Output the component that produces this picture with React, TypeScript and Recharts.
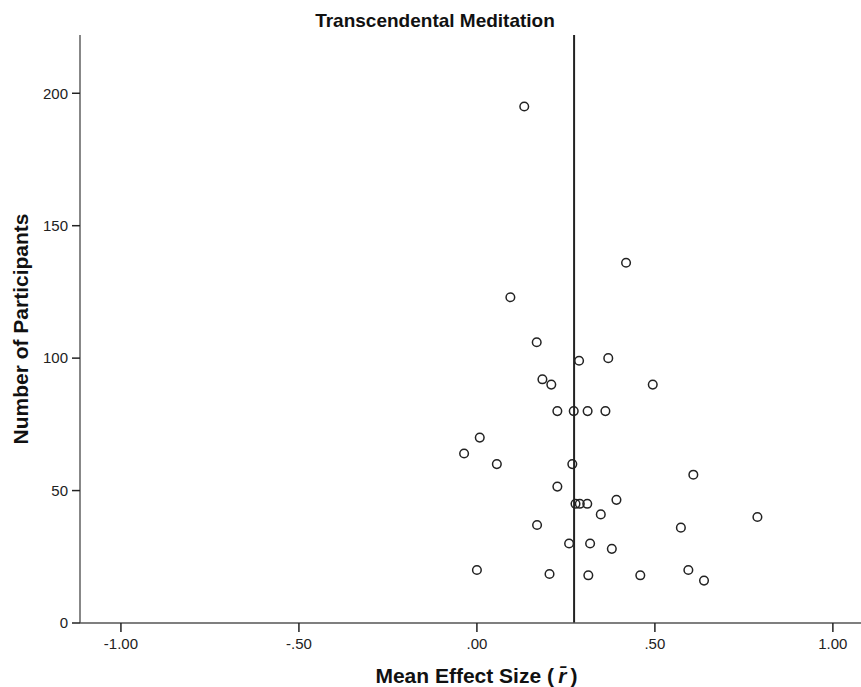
import React from 'react';
import {
  ScatterChart,
  Scatter,
  XAxis,
  YAxis,
  ReferenceLine,
} from 'recharts';

// ---------- Data ----------
const effectSizes = [
  0.133, 0.419, 0.094, 0.168, 0.287, 0.369, 0.184, 0.209, 0.494,
  0.226, 0.272, 0.311, 0.361, 0.008, -0.036, 0.056, 0.268, 0.608,
  0.226, 0.277, 0.289, 0.31, 0.392, 0.348, 0.788, 0.169, 0.573,
  0.259, 0.318, 0.379, 0.0, 0.204, 0.313, 0.459, 0.594, 0.638,
];
const participants = [
  195, 136, 123, 106, 99, 100, 92, 90, 90,
  80, 80, 80, 80, 70, 64, 60, 60, 56,
  51.5, 45, 45, 45, 46.5, 41, 40, 37, 36,
  30, 30, 28, 20, 18.5, 18, 18, 20, 16,
];
const meanEffect = 0.273;
const xTicks = [-1, -0.5, 0, 0.5, 1];
const yTicks = [0, 50, 100, 150, 200];

const data = effectSizes.map((x, i) => ({ x, y: participants[i] }));

const FONT = '"Liberation Sans", Arial, sans-serif';

// SPSS-style labels: drop the leading zero
const fmtX = (v: number) => {
  const s = Math.abs(v).toFixed(2).replace(/^0/, '');
  return v < 0 ? `-${s}` : s;
};

const OpenCircle = (props: any) => (
  <circle cx={props.cx} cy={props.cy} r={4.3} fill="none" stroke="#222" strokeWidth={1.5} />
);

const XTitle = (props: any) => {
  const vb = props.viewBox;
  return (
    <text
      x={vb.x + vb.width / 2 + 6}
      y={vb.y + 60}
      textAnchor="middle"
      fontFamily={FONT}
      fontWeight="bold"
      fontSize={21}
      fill="#111"
    >
      Mean Effect Size (<tspan fontStyle="italic">{'\u2009r\u0304\u2009'}</tspan>)
    </text>
  );
};

const YTitle = (props: any) => {
  const vb = props.viewBox;
  const cx = vb.x + 20;
  const cy = vb.y + vb.height / 2;
  return (
    <text
      x={cx}
      y={cy}
      transform={`rotate(-90 ${cx} ${cy})`}
      textAnchor="middle"
      dominantBaseline="central"
      fontFamily={FONT}
      fontWeight="bold"
      fontSize={21}
      fill="#111"
    >
      Number of Participants
    </text>
  );
};

export default function App() {
  return (
    <div style={{ position: 'absolute', left: 0, top: 0, width: 861, height: 687, background: '#fff' }}>
      <ScatterChart width={861} height={687} margin={{ top: 35, right: 0, bottom: 0, left: 0 }}>
        <XAxis
          type="number"
          dataKey="x"
          domain={[-1.115, 1.079]}
          ticks={xTicks}
          tickFormatter={fmtX}
          height={64}
          tickSize={9}
          tickMargin={6}
          axisLine={{ stroke: '#555', strokeWidth: 1.4 }}
          tickLine={{ stroke: '#222', strokeWidth: 1.5 }}
          tick={{ fill: '#222', fontSize: 15, fontFamily: FONT }}
          allowDataOverflow
          label={{ content: XTitle }}
        />
        <YAxis
          type="number"
          dataKey="y"
          domain={[0, 222]}
          ticks={yTicks}
          width={80}
          tickSize={8}
          tickMargin={4}
          axisLine={{ stroke: '#555', strokeWidth: 1.4 }}
          tickLine={{ stroke: '#222', strokeWidth: 1.5 }}
          tick={{ fill: '#222', fontSize: 15, fontFamily: FONT }}
          allowDataOverflow
          label={{ content: YTitle }}
        />
        <ReferenceLine x={meanEffect} stroke="#222" strokeWidth={2} />
        <Scatter data={data} shape={OpenCircle} isAnimationActive={false} />
      </ScatterChart>
      <svg width={861} height={40} style={{ position: 'absolute', left: 0, top: 0 }}>
        <text x={435} y={27} textAnchor="middle" fontFamily={FONT} fontWeight="bold" fontSize={19} fill="#111">
          Transcendental Meditation
        </text>
      </svg>
    </div>
  );
}
